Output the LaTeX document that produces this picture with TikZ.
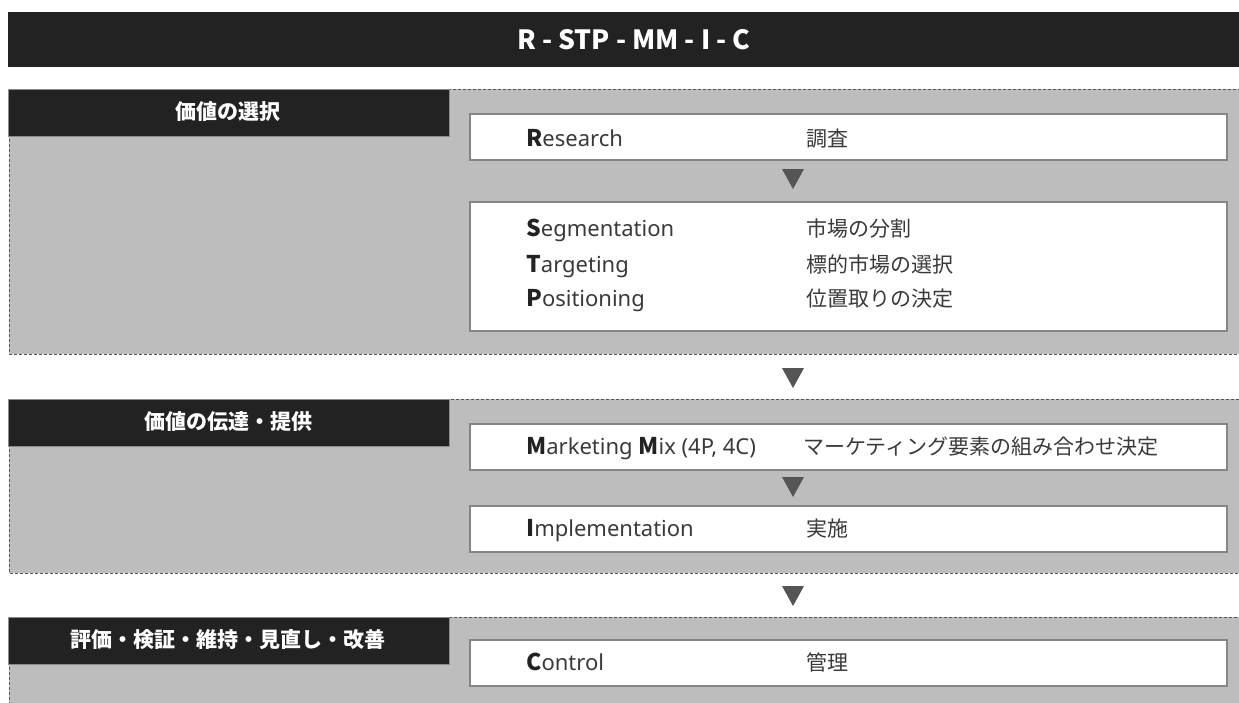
\documentclass[tikz,border=0pt]{standalone}
\usepackage{fontspec}
\setmainfont{Noto Sans CJK JP}
\newfontfamily\latinf{Noto Sans}
\definecolor{titlebg}{HTML}{222222}
\definecolor{panelbg}{HTML}{BDBDBD}
\definecolor{boxline}{HTML}{858585}
\definecolor{dashc}{HTML}{555555}
\definecolor{arrowc}{HTML}{555555}
\definecolor{txtc}{HTML}{3A3A3A}
\tikzset{
  panelfill/.style={fill=panelbg, draw=dashc, dash pattern=on 3pt off 2pt, line width=0.9pt},
  header/.style={fill=titlebg, draw=black!45, line width=0.6pt, anchor=north west, minimum width=441pt, minimum height=47pt, inner sep=0pt},
  headtxt/.style={text=white, font=\bfseries\fontsize{21}{25}\selectfont, inner sep=0pt},
  whitebox/.style={fill=white, draw=boxline, line width=2.4pt, anchor=north west, minimum width=757pt, inner sep=0pt},
  entxt/.style={anchor=base west, inner sep=0pt, text=txtc, font=\latinf\fontsize{22}{26}\selectfont},
  jptxt/.style={anchor=base west, inner sep=0pt, text=txtc, font=\fontsize{21}{25}\selectfont},
  downtri/.style={fill=arrowc}
}
\newcommand{\bl}[1]{\textcolor{titlebg}{\rmfamily\bfseries\fontsize{23}{26}\selectfont #1}}
\begin{document}
\begin{tikzpicture}[x=1pt,y=-1pt]
\useasboundingbox (0,0) rectangle (1239,702);
% title
\node[fill=titlebg, anchor=north west, minimum width=1240pt, minimum height=55pt, inner sep=0pt] (title) at (8,12) {};
\node[text=white, font=\rmfamily\bfseries\fontsize{26.5}{32}\selectfont, inner sep=0pt, anchor=base] (titletext) at (634,49) {R - STP - MM - I - C};

% panel 1
\path[panelfill] (9,89) rectangle (1250,354);
\node[header] (h1) at (8,89) {};
\node[headtxt] (h1t) at (228,112) {価値の選択};
\node[whitebox, minimum height=46pt] (research) at (469,113) {};
\node[entxt] (researchEn) at (526,146) {\bl{R}esearch};
\node[jptxt] (researchJp) at (806,146) {調査};
\fill[downtri] (782,169) -- (804,169) -- (793,189) -- cycle;
\node[whitebox, minimum height=129pt] (stp) at (469,201) {};
\node[entxt] (segEn) at (526,236) {\bl{S}egmentation};
\node[jptxt] (segJp) at (806,236) {市場の分割};
\node[entxt] (tarEn) at (526,272) {\bl{T}argeting};
\node[jptxt] (tarJp) at (806,272) {標的市場の選択};
\node[entxt] (posEn) at (526,306) {\bl{P}ositioning};
\node[jptxt] (posJp) at (806,306) {位置取りの決定};

% arrow between panels
\fill[downtri] (782,368) -- (804,368) -- (793,388) -- cycle;

% panel 2
\path[panelfill] (9,399) rectangle (1250,573);
\node[header] (h2) at (8,399) {};
\node[headtxt] (h2t) at (228,422) {価値の伝達・提供};
\node[whitebox, minimum height=46pt] (mm) at (469,423) {};
\node[entxt] (mmEn) at (526,454) {\bl{M}arketing \bl{M}ix (4P, 4C)};
\node[jptxt] (mmJp) at (803,454) {マーケティング要素の組み合わせ決定};
\fill[downtri] (782,477) -- (804,477) -- (793,497) -- cycle;
\node[whitebox, minimum height=46pt] (impl) at (469,505) {};
\node[entxt] (implEn) at (526,536) {\bl{I}mplementation};
\node[jptxt] (implJp) at (806,536) {実施};

% arrow between panels
\fill[downtri] (782,586) -- (804,586) -- (793,606) -- cycle;

% panel 3
\path[panelfill] (9,617) rectangle (1250,720);
\node[header] (h3) at (8,617) {};
\node[headtxt] (h3t) at (228,640) {評価・検証・維持・見直し・改善};
\node[whitebox, minimum height=46pt] (ctrl) at (469,639) {};
\node[entxt] (ctrlEn) at (526,670) {\bl{C}ontrol};
\node[jptxt] (ctrlJp) at (806,670) {管理};
\end{tikzpicture}
\end{document}
